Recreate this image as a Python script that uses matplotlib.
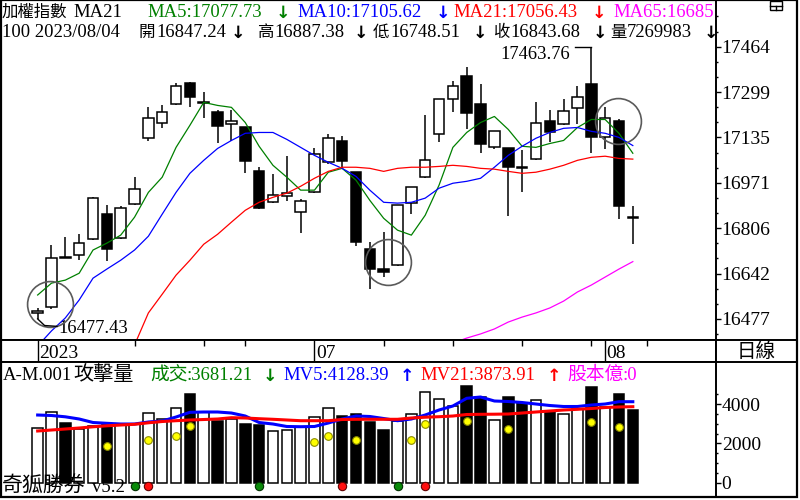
import numpy as np
import matplotlib
matplotlib.use("Agg")
import matplotlib.pyplot as plt
from matplotlib.patches import Rectangle

plt.rcParams['font.family'] = ['Liberation Serif', 'Noto Sans CJK TC', 'DejaVu Sans']

# daily candles of the TAIEX, 2023/06/01 .. 2023/08/04
opens = [16500, 16520, 16702, 16708, 16766, 16857, 16770, 16893, 17132, 17186,
         17255, 17334, 17260, 17226, 17182, 17171, 17012, 16900, 16922, 16864,
         16936, 17045, 17121, 17009, 16730, 16658, 16672, 16897, 16991, 17146,
         17273, 17359, 17255, 17099, 17095, 17029, 17056, 17193, 17182, 17240,
         17330, 17135, 17193, 16847.24]
highs = [16517, 16745, 16774, 16784, 16918, 16889, 16886, 16991, 17244, 17251,
         17334, 17337, 17298, 17236, 17236, 17173, 17027, 17001, 17067, 16911,
         17095, 17146, 17142, 17011, 16755, 16792, 16891, 16956, 17215, 17275,
         17338, 17392, 17330, 17159, 17097, 17088, 17262, 17236, 17273, 17320,
         17463.76, 17244, 17200, 16887.38]
lows = [16477.43, 16515, 16697, 16690, 16762, 16687, 16768, 16891, 17121, 17171,
        17253, 17244, 17204, 17114, 17121, 17005, 16876, 16898, 16904, 16788,
        16934, 17038, 17023, 16741, 16585, 16629, 16670, 16857, 16989, 17117,
        17226, 17164, 17077, 17092, 16850, 16936, 17054, 17117, 17180, 17182,
        17077, 17092, 16839, 16748.51]
closes = [16505, 16698, 16698, 16752, 16915, 16730, 16878, 16947, 17204, 17226,
          17323, 17280, 17264, 17175, 17193, 17048, 16878, 16925, 16933, 16904,
          17074, 17132, 17048, 16755, 16658, 16647, 16889, 16954, 17052, 17273,
          17323, 17222, 17110, 17157, 17027, 17025, 17189, 17153, 17229, 17280,
          17135, 17204, 16886, 16843.68]

ma5 = [16564, 16607, 16618, 16643, 16727, 16752, 16781, 16846, 16936, 16991,
       17099, 17179, 17262, 17251, 17244, 17189, 17103, 17034, 16991, 16944,
       16944, 17009, 17023, 16980, 16907, 16842, 16799, 16781, 16853, 16962,
       17099, 17153, 17189, 17211, 17164, 17103, 17099, 17113, 17124, 17171,
       17200, 17200, 17150, 17077.73]
ma10 = [16379, 16434, 16481, 16546, 16625, 16658, 16690, 16727, 16777, 16857,
        16936, 17005, 17052, 17095, 17124, 17150, 17153, 17153, 17128, 17099,
        17070, 17045, 17023, 16994, 16944, 16900, 16897, 16900, 16915, 16951,
        16969, 16976, 16987, 17027, 17070, 17103, 17132, 17153, 17168, 17171,
        17157, 17150, 17135, 17105.62]
ma21 = [None] * 7 + [16383, 16499, 16567, 16636, 16690, 16748, 16784, 16828, 16871, 16900,
                     16918, 16933, 16958, 16987, 17012, 17027, 17027, 17023, 17012, 17023,
                     17027, 17027, 17030, 17034, 17030, 17023, 17020, 17012, 17005, 17009,
                     17020, 17034, 17052, 17063, 17067, 17059, 17056.43]
ma65 = [None] * 30 + [16390, 16408, 16423, 16441, 16466, 16484, 16499, 16517, 16542, 16575,
                      16600, 16629, 16658, 16685]

volume = [2770, 3618, 3025, 2719, 2902, 2974, 2974, 2974, 3536, 3230,
          3792, 4522, 3618, 3158, 3230, 2989, 2938, 2632, 2683, 2851,
          3332, 3792, 3398, 3500, 3107, 2683, 3158, 3500, 4640, 4252,
          3909, 4931, 4384, 3194, 4384, 4078, 4216, 3618, 3500, 3781,
          4895, 3873, 4522, 3681.21]
mv5 = [3449, 3424, 3357, 3245, 3066, 3025, 2989, 2989, 3092, 3143,
       3347, 3587, 3603, 3603, 3551, 3398, 3066, 2989, 2862, 2851,
       2862, 3040, 3245, 3398, 3373, 3270, 3158, 3245, 3449, 3705,
       3909, 4303, 4369, 4165, 4139, 4088, 4011, 3935, 3884, 3884,
       3960, 4011, 4129, 4128.39]
mv21 = [2632, 2683, 2734, 2785, 2846, 2897, 2938, 2974, 3051, 3117,
        3158, 3194, 3219, 3245, 3311, 3296, 3260, 3230, 3194, 3158,
        3158, 3158, 3219, 3230, 3230, 3230, 3230, 3296, 3337, 3362,
        3398, 3475, 3485, 3490, 3500, 3551, 3603, 3654, 3705, 3741,
        3781, 3832, 3860, 3873.91]

# signal markers in the volume panel
yellow_idx = [5, 8, 10, 11, 20, 21, 23, 27, 28, 31, 34, 40, 42]
yellow_val = [1880, 2172, 2391, 2902, 2085, 2391, 2172, 2172, 2989, 3158, 2734, 3107, 2851]
green_dot_idx = [7, 16, 26]
red_dot_idx = [8, 22, 28]

# circled spots on the price chart
circle_idx = [0.9, 25.3, 41.9]
circle_price = [16531, 16683, 17193]

month_ticks = [0, 20, 41]
month_labels = ['2023', '07', '08']
week_ticks = [7, 12, 15, 25, 30, 35, 40, 44]

GREEN, BLUE, RED, MAG = '#008000', '#0000ff', '#ff0000', '#ff00ff'
W, H = 800, 500


def fx(x):
    return x / W


def fy(y):
    return 1 - y / H


fig = plt.figure(figsize=(8, 5), dpi=100)
xlim = (-2.72, 49.01)

o = np.array(opens)
c = np.array(closes)
idx = np.arange(len(c))
up = c >= o
faces = ['white' if u else 'black' for u in up]

# ---- price panel
ax = fig.add_axes([0, fy(340), fx(716), 340 / H])
ax.vlines(idx, lows, highs, color='k', lw=1.1, zorder=2)
ax.bar(idx, np.maximum(np.abs(c - o), 2), bottom=np.minimum(o, c), width=0.76,
       color=faces, edgecolor='k', linewidth=1.1, zorder=3)
ax.plot(idx, ma5, color=GREEN, lw=0.9, zorder=4)
ax.plot(idx, ma10, color=BLUE, lw=0.9, zorder=4)
ax.plot(idx, np.array(ma21, dtype=float), color=RED, lw=0.9, zorder=4)
ax.plot(idx, np.array(ma65, dtype=float), color=MAG, lw=0.9, zorder=4)
ax.plot(circle_idx, circle_price, 'o', ms=33, mfc='none', mec='#5a5a5a', mew=1.2,
        ls='none', zorder=5)

hi = int(np.argmax(highs))
lo = int(np.argmin(lows))
ax.plot([hi - 1.2, hi], [highs[hi], highs[hi]], color='k', lw=1, zorder=5)
ax.text(hi - 1.55, highs[hi] - 43, f'{highs[hi]:.2f}', ha='right', va='baseline', fontsize=13.4)
ax.plot([lo, lo + 0.5, lo + 1.4], [lows[lo], lows[lo] - 24, lows[lo] - 27], color='k', lw=1, zorder=5)
ax.text(lo + 1.47, lows[lo] - 52, f'{lows[lo]:.2f}', ha='left', va='baseline', fontsize=13.4)

ax.set_xlim(*xlim)
ax.set_ylim(16401, 17633)
ax.set_xticks([])
yt = np.linspace(min(lows), max(highs), 7)
step = (yt[1] - yt[0]) / 3
ax.yaxis.tick_right()
ax.set_yticks(yt)
ax.set_yticklabels([f'{v:.0f}' for v in yt])
ax.set_yticks([yt[0] + k * step for k in range(-2, 21) if k % 3 and 16401 < yt[0] + k * step < 17633],
              minor=True)
ax.tick_params(axis='y', which='major', length=3.6, width=1, pad=0.5, labelsize=14)
ax.tick_params(axis='y', which='minor', length=1.5, width=1)
for sp in ax.spines.values():
    sp.set_linewidth(1.4)


def put(axis, segs, y, size=13.4):
    for seg in segs:
        x, s, col = seg[:3]
        fs = seg[3] if len(seg) > 3 else size
        if s in ('↓', '↑'):
            axis.text(fx(x), fy(y + 1), s, color=col, fontsize=12.5, fontweight='bold',
                      family='DejaVu Sans', ha='center', va='baseline',
                      transform=fig.transFigure, clip_on=True, zorder=10)
        else:
            axis.text(fx(x), fy(y), s, color=col, fontsize=fs, ha='left', va='baseline',
                      transform=fig.transFigure, clip_on=True, zorder=10)


put(ax, [(2, '加權指數', 'k', 11.8), (73, 'MA21', 'k'),
         (147, 'MA5:17077.73', GREEN), (283, '↓', GREEN),
         (297, 'MA10:17105.62', BLUE), (443, '↓', BLUE),
         (453, 'MA21:17056.43', RED), (599, '↓', RED),
         (613, 'MA65:16685', MAG)], 17)
put(ax, [(2, '100 2023/08/04', 'k'),
         (139, '開', 'k', 11.8), (156, '16847.24', 'k'), (238, '↓', 'k'),
         (257, '高', 'k', 11.8), (274, '16887.38', 'k'), (361, '↓', 'k'),
         (373, '低', 'k', 11.8), (390, '16748.51', 'k'), (480, '↓', 'k'),
         (493, '收', 'k', 11.8), (510, '16843.68', 'k'), (600, '↓', 'k'),
         (610, '量', 'k', 11.8), (627, '7269983', 'k'), (711, '↓', 'k')], 37)

# ---- date strip
axd = fig.add_axes([0, fy(362), fx(716), 22 / H])
axd.set_xlim(*xlim)
axd.set_ylim(0, 1)
axd.set_xticks([])
axd.set_yticks([])
axd.vlines(week_ticks, 0.75, 1, color='k', lw=1)
axd.vlines(month_ticks, 0, 1, color='k', lw=1)
for t, lab in zip(month_ticks, month_labels):
    axd.text(t + 0.1, 0.2, lab, fontsize=14, ha='left', va='baseline')
for sp in axd.spines.values():
    sp.set_linewidth(1.4)

axr = fig.add_axes([fx(716), fy(362), fx(81), 22 / H])
axr.set_xticks([])
axr.set_yticks([])
axr.text(0.5, 0.45, '日線', fontsize=14, ha='center', va='center', transform=axr.transAxes)
for sp in axr.spines.values():
    sp.set_linewidth(1.4)

# ---- volume panel
axv = fig.add_axes([0, fy(497), fx(716), 135 / H])
axv.bar(idx, volume, width=0.76, color=faces, edgecolor='k', linewidth=1.1, zorder=2)
axv.plot(idx, mv5, color=BLUE, lw=2.2, zorder=3)
axv.plot(idx, mv21, color=RED, lw=2.2, zorder=3)
axv.plot(yellow_idx, yellow_val, 'o', ms=5.5, mfc='#ffff00', mec='#8a8a00', mew=0.8,
         ls='none', zorder=4)
dot_level = -180
axv.plot(green_dot_idx, [dot_level] * len(green_dot_idx), 'o', ms=6, mfc='#0a8a0a',
         mec='#003000', mew=0.8, ls='none', zorder=4)
axv.plot(red_dot_idx, [dot_level] * len(red_dot_idx), 'o', ms=6, mfc='#ff1010',
         mec='#600000', mew=0.8, ls='none', zorder=4)
axv.set_xlim(*xlim)
axv.set_ylim(-741, 6158)
axv.set_xticks([])
axv.yaxis.tick_right()
axv.set_yticks([0, 2000, 4000])
axv.set_yticks([v for v in range(500, 5000, 500) if v % 2000], minor=True)
axv.tick_params(axis='y', which='major', length=3.6, width=1, pad=0.5, labelsize=14)
axv.tick_params(axis='y', which='minor', length=1.5, width=1)
for sp in axv.spines.values():
    sp.set_linewidth(1.4)

put(axv, [(3, 'A-M.001', 'k'), (73, '攻擊量', 'k', 14.5),
          (150, '成交', GREEN, 13.5), (187, ':3681.21', GREEN), (270, '↓', GREEN),
          (283, 'MV5:4128.39', BLUE), (407, '↑', BLUE),
          (420, 'MV21:3873.91', RED), (554, '↑', RED),
          (567, '股本億', MAG, 13.5), (623, ':0', MAG)], 380)
put(axv, [(2, '奇狐勝券', 'k', 15), (92, 'v5.2', 'k')], 492)

# frame and the small window icon at the top right
fig.add_artist(Rectangle((fx(0.7), fy(497)), fx(796.5), 497 / H, fill=False, ec='k', lw=1.6,
                         transform=fig.transFigure))
fig.add_artist(Rectangle((fx(770), fy(10)), fx(12), 9 / H, fill=False, ec='k', lw=1,
                         transform=fig.transFigure))
fig.add_artist(plt.Line2D([fx(770), fx(782)], [fy(5.5), fy(5.5)], color='k', lw=1,
                          transform=fig.transFigure))
fig.add_artist(plt.Line2D([fx(776), fx(776)], [fy(5.5), fy(10)], color='k', lw=1,
                          transform=fig.transFigure))

fig.savefig('out.png', dpi=100)
